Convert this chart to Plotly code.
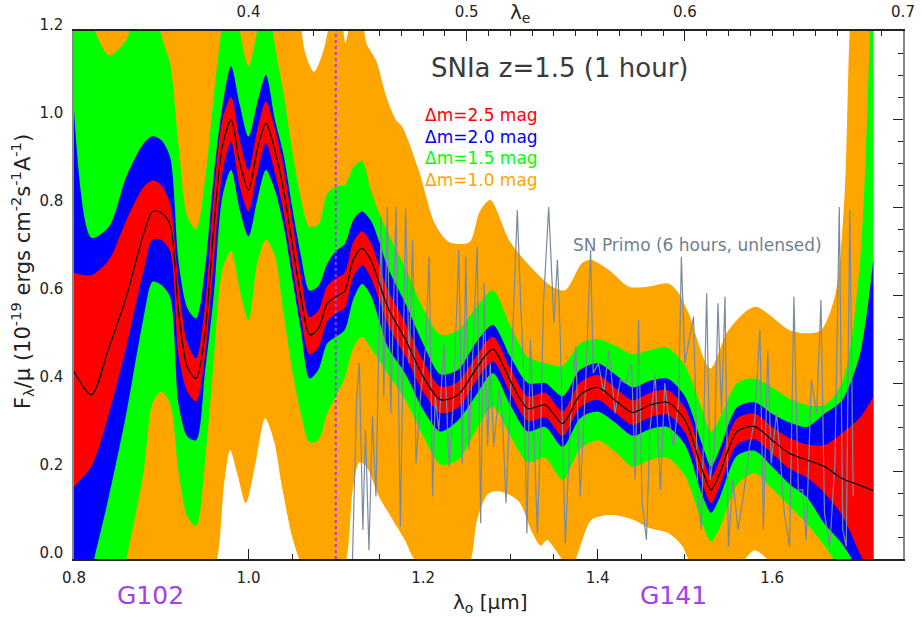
import plotly.graph_objects as go

# ---------------- data ----------------
# observed wavelength grid (micron) for the model spectrum and its bands
LAM = [0.80, 0.82, 0.84, 0.86, 0.88, 0.89, 0.90, 0.91, 0.92, 0.93, 0.94, 0.95,
       0.96, 0.97, 0.98, 0.99, 1.00, 1.01, 1.02, 1.03, 1.04, 1.05, 1.06, 1.07,
       1.08, 1.09, 1.10, 1.11, 1.12, 1.13, 1.14, 1.15, 1.16, 1.18, 1.20, 1.22,
       1.24, 1.26, 1.28, 1.30, 1.32, 1.34, 1.36, 1.38, 1.40, 1.42, 1.44, 1.46,
       1.48, 1.50, 1.52, 1.53, 1.54, 1.56, 1.58, 1.60, 1.62, 1.64, 1.66, 1.68,
       1.70, 1.716]

MODEL = [0.426, 0.373, 0.48, 0.596, 0.74, 0.79, 0.787, 0.76, 0.56, 0.435, 0.41, 0.51,
         0.748, 0.937, 0.998, 0.9, 0.839, 0.93, 0.99, 0.93, 0.84, 0.717, 0.596, 0.509,
         0.524, 0.58, 0.596, 0.608, 0.68, 0.706, 0.68, 0.626, 0.57, 0.498, 0.415, 0.362,
         0.373, 0.43, 0.477, 0.405, 0.342, 0.35, 0.308, 0.373, 0.39, 0.361, 0.333, 0.35,
         0.356, 0.316, 0.202, 0.157, 0.195, 0.29, 0.301, 0.27, 0.24, 0.225, 0.21, 0.183,
         0.168, 0.155]

# dm = 2.5 mag band
RED_HI = [0.65, 0.645, 0.68, 0.77, 0.846, 0.86, 0.85, 0.808, 0.62, 0.49, 0.456, 0.574,
          0.823, 0.998, 1.05, 0.952, 0.884, 0.975, 1.04, 0.98, 0.89, 0.77, 0.645, 0.55,
          0.565, 0.62, 0.638, 0.65, 0.72, 0.745, 0.72, 0.665, 0.61, 0.535, 0.45, 0.392,
          0.403, 0.458, 0.505, 0.433, 0.37, 0.378, 0.336, 0.401, 0.418, 0.389, 0.361, 0.378,
          0.384, 0.344, 0.232, 0.187, 0.225, 0.32, 0.33, 0.30, 0.275, 0.26, 0.259, 0.286,
          0.32, 0.369]
RED_LO = [0.165, 0.21, 0.33, 0.483, 0.657, 0.726, 0.725, 0.70, 0.46, 0.38, 0.358, 0.46,
          0.672, 0.877, 0.948, 0.846, 0.79, 0.877, 0.945, 0.88, 0.79, 0.67, 0.55, 0.465,
          0.48, 0.54, 0.558, 0.57, 0.64, 0.668, 0.64, 0.588, 0.532, 0.46, 0.38, 0.332,
          0.343, 0.402, 0.449, 0.377, 0.314, 0.322, 0.28, 0.345, 0.362, 0.333, 0.305, 0.322,
          0.328, 0.288, 0.172, 0.127, 0.165, 0.26, 0.272, 0.24, 0.205, 0.185, 0.15, 0.10,
          0.015, -0.05]

# dm = 2.0 mag band
BLUE_HI = [1.02, 0.73, 0.755, 0.869, 0.945, 0.961, 0.952, 0.914, 0.672, 0.57, 0.547, 0.657,
           0.869, 1.028, 1.12, 1.032, 0.96, 1.036, 1.10, 1.0, 0.92, 0.80, 0.69, 0.61,
           0.62, 0.67, 0.70, 0.715, 0.77, 0.79, 0.77, 0.72, 0.66, 0.58, 0.49, 0.42,
           0.43, 0.49, 0.532, 0.46, 0.40, 0.40, 0.37, 0.43, 0.445, 0.42, 0.39, 0.405,
           0.41, 0.37, 0.26, 0.21, 0.25, 0.345, 0.356, 0.33, 0.31, 0.30, 0.33, 0.36,
           0.46, 0.68]
BLUE_LO = [-0.19, -0.025, 0.142, 0.331, 0.551, 0.63, 0.623, 0.596, 0.35, 0.278, 0.27, 0.422,
           0.596, 0.823, 0.884, 0.793, 0.733, 0.816, 0.884, 0.84, 0.76, 0.64, 0.52, 0.41,
           0.43, 0.49, 0.505, 0.52, 0.59, 0.625, 0.60, 0.54, 0.48, 0.42, 0.34, 0.29,
           0.315, 0.37, 0.422, 0.35, 0.29, 0.30, 0.255, 0.32, 0.335, 0.31, 0.28, 0.295,
           0.30, 0.26, 0.145, 0.105, 0.14, 0.235, 0.246, 0.21, 0.17, 0.14, 0.08, 0.035,
           -0.03, -0.1]

# dm = 1.5 mag band
GREEN_HI = [1.35, 1.22, 1.145, 1.18, 1.35, 1.3, 1.19, 1.127, 0.937, 0.778, 0.75, 0.86,
            1.05, 1.22, 1.35, 1.2, 1.12, 1.2, 1.3, 1.17, 1.06, 0.93, 0.82, 0.755,
            0.76, 0.83, 0.846, 0.85, 0.89, 0.905, 0.84, 0.785, 0.74, 0.66, 0.57, 0.51,
            0.52, 0.57, 0.611, 0.53, 0.46, 0.445, 0.44, 0.49, 0.50, 0.485, 0.465, 0.475,
            0.48, 0.44, 0.34, 0.29, 0.32, 0.40, 0.41, 0.39, 0.365, 0.35, 0.35, 0.40,
            0.66, 1.5]
GREEN_LO = [-0.5, -0.35, -0.18, 0.0, 0.2, 0.354, 0.38, 0.354, 0.195, 0.096, 0.075, 0.217,
            0.445, 0.657, 0.70, 0.611, 0.543, 0.672, 0.726, 0.69, 0.56, 0.43, 0.33, 0.265,
            0.27, 0.33, 0.37, 0.41, 0.48, 0.505, 0.48, 0.45, 0.42, 0.36, 0.28, 0.215,
            0.225, 0.29, 0.346, 0.28, 0.22, 0.23, 0.18, 0.25, 0.27, 0.245, 0.21, 0.225,
            0.23, 0.19, 0.08, 0.04, 0.07, 0.17, 0.195, 0.16, 0.12, 0.08, 0.03, -0.03,
            -0.1, -0.2]

# dm = 1.0 mag band (own sampling)
ORANGE_HI_X = [0.80, 1.05, 1.058, 1.065, 1.075, 1.085, 1.093, 1.10, 1.106, 1.111, 1.116,
               1.124, 1.130, 1.135, 1.146, 1.158, 1.169, 1.176, 1.195, 1.214, 1.23, 1.253,
               1.265, 1.277, 1.30, 1.33, 1.348, 1.363, 1.382, 1.392, 1.413, 1.436, 1.458,
               1.481, 1.493, 1.504, 1.529, 1.55, 1.58, 1.62, 1.64, 1.656, 1.672, 1.683,
               1.689, 1.70, 1.716]
ORANGE_HI = [1.45, 1.4, 1.25, 1.15, 1.107, 1.15, 1.22, 1.3, 1.25, 1.173, 1.22,
             1.3, 1.25, 1.173, 1.134, 1.05, 0.998, 0.983, 0.884, 0.76, 0.72, 0.72,
             0.79, 0.816, 0.72, 0.65, 0.619, 0.611, 0.672, 0.68, 0.657, 0.619, 0.619,
             0.626, 0.604, 0.56, 0.433, 0.52, 0.573, 0.52, 0.513, 0.52, 0.597, 0.824,
             1.2, 1.5, 1.6]
ORANGE_LO_X = [0.80, 0.90, 0.95, 0.964, 0.972, 0.979, 0.987, 0.997, 1.008, 1.019, 1.029,
               1.039, 1.05, 1.058, 1.07, 1.09, 1.105, 1.112, 1.119, 1.127, 1.135, 1.15,
               1.165, 1.18, 1.19, 1.22, 1.248, 1.255, 1.262, 1.275, 1.29, 1.31, 1.325,
               1.335, 1.342, 1.352, 1.359, 1.367, 1.375, 1.393, 1.416, 1.44, 1.46, 1.48,
               1.497, 1.504, 1.52, 1.56, 1.569, 1.58, 1.594, 1.61, 1.716]
ORANGE_LO = [-0.9, -0.4, -0.07, 0.0, 0.17, 0.248, 0.195, 0.127, 0.218, 0.32, 0.27,
             0.157, 0.05, 0.0, -0.06, -0.06, -0.02, 0.0, 0.15, 0.22, 0.21, 0.14,
             0.09, 0.04, 0.0, -0.04, -0.02, 0.0, 0.09, 0.149, 0.153, 0.13, 0.06,
             0.03, 0.043, 0.02, 0.0, -0.02, 0.0, 0.089, 0.10, 0.09, 0.07, 0.06,
             0.03, 0.0, -0.04, -0.03, 0.0, 0.02, 0.0, -0.05, -0.6]

# SN Primo spectrum (6 hours, unlensed)
PRIMO_X = [1.119, 1.124, 1.127, 1.131, 1.134, 1.138, 1.142, 1.146, 1.152, 1.155, 1.159,
           1.163, 1.169, 1.174, 1.18, 1.184, 1.188, 1.192, 1.197, 1.203, 1.207, 1.211,
           1.214, 1.218, 1.224, 1.23, 1.235, 1.241, 1.245, 1.249, 1.2526, 1.262, 1.266,
           1.27, 1.274, 1.277, 1.281, 1.287, 1.291, 1.295, 1.3, 1.308, 1.312, 1.315,
           1.319, 1.323, 1.327, 1.331, 1.335, 1.338, 1.344, 1.35, 1.354, 1.357, 1.363,
           1.369, 1.375, 1.38, 1.386, 1.392, 1.395, 1.401, 1.407, 1.413, 1.42, 1.426,
           1.432, 1.439, 1.443, 1.447, 1.451, 1.456, 1.46, 1.466, 1.472, 1.477, 1.481,
           1.487, 1.493, 1.496, 1.5, 1.51, 1.515, 1.519, 1.525, 1.529, 1.534, 1.538,
           1.542, 1.546, 1.55, 1.555, 1.561, 1.567, 1.574, 1.58, 1.586, 1.59, 1.595,
           1.599, 1.605, 1.609, 1.614, 1.62, 1.625, 1.63, 1.635, 1.639, 1.645, 1.651,
           1.656, 1.66, 1.666, 1.672, 1.677, 1.681, 1.685, 1.689, 1.693]
PRIMO_Y = [-0.01, 0.369, 0.445, 0.066, 0.293, 0.02, 0.324, 0.142, 0.778, 0.369, 0.8,
           0.331, 0.8, 0.074, 0.797, 0.445, 0.725, 0.217, 0.369, 0.483, 0.687, 0.142,
           0.369, 0.293, 0.49, 0.21, 0.369, 0.702, 0.217, 0.687, 0.248, 0.71, 0.081,
           0.627, 0.255, 0.445, 0.255, 0.384, 0.324, 0.127, 0.369, 0.793, 0.574, 0.445,
           0.058, 0.498, 0.293, 0.058, 0.308, 0.581, 0.8, 0.536, 0.68, 0.521, 0.036,
           0.316, 0.483, 0.142, 0.384, 0.702, 0.422, 0.445, 0.377, 0.475, 0.331, 0.407,
           0.4, 0.445, 0.18, 0.543, 0.127, 0.043, 0.293, 0.422, 0.157, 0.4, 0.331,
           0.255, 0.361, 0.687, 0.445, 0.551, 0.142, 0.066, 0.604, 0.18, 0.255, 0.581,
           0.331, 0.596, 0.028, 0.18, 0.066, 0.142, 0.255, 0.316, 0.521, 0.066, 0.475,
           0.217, 0.331, 0.24, 0.104, 0.028, 0.596, 0.157, 0.157, 0.043, 0.407, 0.331,
           0.589, 0.104, 0.028, 0.217, 0.8, 0.066, 0.028, 0.793, 0.142]

Z = 1.5
G102_EDGE = 1.1

BAND_LABELS = ["\u0394m=2.5 mag", "\u0394m=2.0 mag", "\u0394m=1.5 mag", "\u0394m=1.0 mag"]
BAND_COLORS = ["#ff0000", "#0000ff", "#00ff00", "#ffa500"]

# ---------------- figure ----------------
FONT = "DejaVu Sans"
fig = go.Figure()


def band(x_lo, lo, x_hi, hi, color):
    fig.add_trace(go.Scatter(x=x_lo, y=lo, mode="lines",
                             line=dict(width=0, shape="spline", smoothing=0.8),
                             hoverinfo="skip", showlegend=False))
    fig.add_trace(go.Scatter(x=x_hi, y=hi, mode="lines", fill="tonexty",
                             fillcolor=color,
                             line=dict(width=0, shape="spline", smoothing=0.8, color=color),
                             hoverinfo="skip", showlegend=False))


band(ORANGE_LO_X, ORANGE_LO, ORANGE_HI_X, ORANGE_HI, BAND_COLORS[3])
band(LAM, GREEN_LO, LAM, GREEN_HI, BAND_COLORS[2])
band(LAM, BLUE_LO, LAM, BLUE_HI, BAND_COLORS[1])
band(LAM, RED_LO, LAM, RED_HI, BAND_COLORS[0])

fig.add_trace(go.Scatter(x=PRIMO_X, y=PRIMO_Y, mode="lines",
                         line=dict(color="#7a8a9c", width=1.2),
                         hoverinfo="skip", showlegend=False))

fig.add_trace(go.Scatter(x=LAM, y=MODEL, mode="lines",
                         line=dict(color="black", width=1.2, shape="spline", smoothing=0.8),
                         hoverinfo="skip", showlegend=False))

# grism boundary
fig.add_shape(type="line", x0=G102_EDGE, x1=G102_EDGE, y0=0, y1=1, xref="x", yref="paper",
              line=dict(color="#a040f0", width=2, dash="dot"), layer="above")

# rest-frame axis carrier
fig.add_trace(go.Scatter(x=[0.5], y=[0.5], xaxis="x2", yaxis="y2", mode="markers",
                         marker=dict(size=0, opacity=0), hoverinfo="skip", showlegend=False))

XR = [0.8, 1.75]
tickfont = dict(family=FONT, size=15, color="#222222")
fig.update_layout(
    width=922, height=617,
    margin=dict(l=74, r=19, t=31, b=58, autoexpand=False),
    paper_bgcolor="white", plot_bgcolor="white",
    showlegend=False,
    xaxis=dict(range=XR, tick0=0.8, dtick=0.2, tickformat=".1f", ticks="inside",
               ticklen=10, tickcolor="#222", showline=True, linecolor="#222", linewidth=1.5,
               minor=dict(dtick=0.05, ticklen=5, ticks="inside", tickcolor="#222"),
               showgrid=False, zeroline=False, tickfont=tickfont, layer="below traces",
               ticklabelstandoff=4, automargin=False),
    xaxis2=dict(range=[XR[0] / (1 + Z), XR[1] / (1 + Z)], overlaying="x", side="top",
                tick0=0.4, dtick=0.1, tickformat=".1f", ticks="inside", ticklen=10,
                tickcolor="#222", showline=True, linecolor="#222", linewidth=1.5,
                minor=dict(dtick=0.01, ticklen=5, ticks="inside", tickcolor="#222"),
                showgrid=False, zeroline=False, tickfont=tickfont, layer="below traces",
                ticklabelstandoff=6, automargin=False),
    yaxis=dict(range=[0, 1.2], tick0=0, dtick=0.2, tickformat=".1f", ticks="inside",
               ticklen=10, tickcolor="#222", showline=True, linecolor="#888", linewidth=1.5,
               minor=dict(dtick=0.05, ticklen=5, ticks="inside", tickcolor="#222"),
               showgrid=False, zeroline=False, tickfont=tickfont, layer="below traces",
               ticklabelshift=-6, ticklabelstandoff=6, automargin=False),
    yaxis2=dict(range=[0, 1.2], overlaying="y", side="right", showticklabels=False,
                tick0=0, dtick=0.2, ticks="inside", ticklen=10, tickcolor="#222",
                showline=True, linecolor="#888", linewidth=1.5,
                minor=dict(dtick=0.05, ticklen=5, ticks="inside", tickcolor="#222"),
                showgrid=False, zeroline=False, layer="below traces", automargin=False),
)


def px_to_paper(px, py):
    return (px - 74) / 829.0, (559 - py) / 528.0


def note(text, px, py, size, color, xanchor="center", angle=0):
    x, y = px_to_paper(px, py)
    fig.add_annotation(text=text, x=x, y=y, xref="paper", yref="paper",
                       xanchor=xanchor, yanchor="middle", showarrow=False,
                       textangle=angle,
                       font=dict(family=FONT, size=size, color=color))


note("SNIa z=1.5 (1 hour)", 560, 68, 26, "#3a3a3a")
for i, (lab, col) in enumerate(zip(BAND_LABELS, BAND_COLORS)):
    note(lab, 423, 115 + 21.7 * i, 17, col, xanchor="left")
note("SN Primo (6 hours, unlensed)", 697, 245, 17, "#708090")
note("G102", 150, 595, 25, "#a040f0")
note("G141", 673, 595, 25, "#a040f0")
note("\u03bb<sub>o</sub> [\u03bcm]", 490, 603, 20, "#222222")
note("\u03bb<sub>e</sub>", 520, 13, 20, "#222222")
note("F<sub>\u03bb</sub>/\u03bc (10<sup>-19</sup> ergs cm<sup>-2</sup>s<sup>-1</sup>A<sup>-1</sup>)",
     22, 272, 21, "#222222", angle=-90)

fig.write_html("out.html")
